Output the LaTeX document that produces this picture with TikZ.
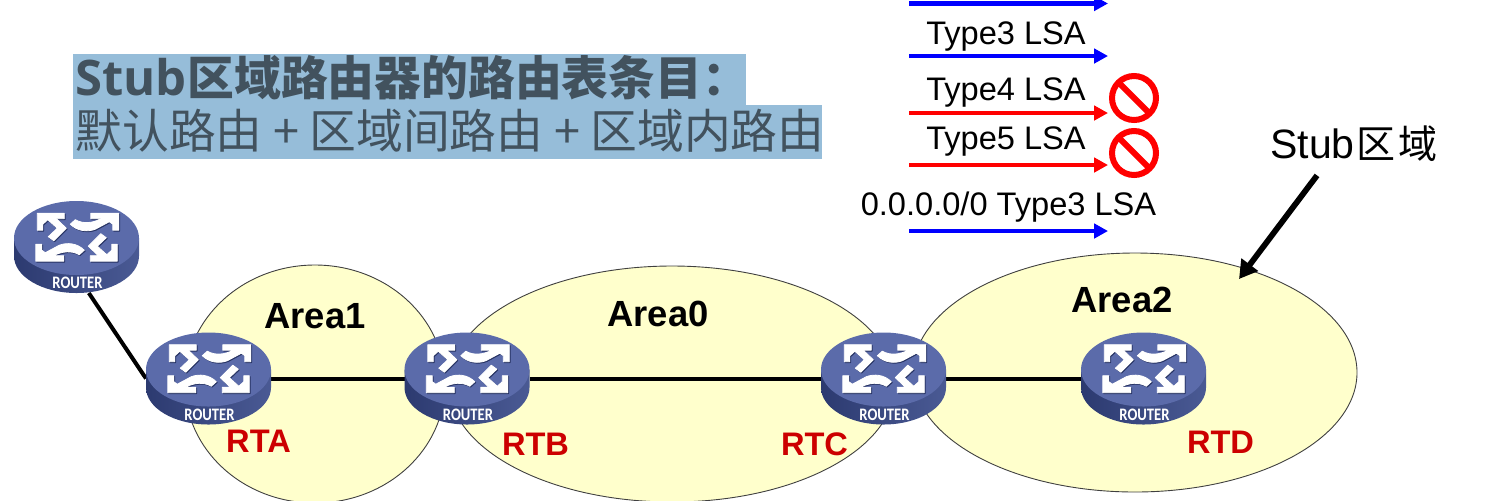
\documentclass[tikz,border=0pt]{standalone}
\usepackage{fontspec}
\setmainfont{Liberation Sans}
\newfontfamily\cjk{Noto Sans CJK SC}
\newfontfamily\rfont{Carlito}
\newfontfamily\stubfont{Open Sans}
\usetikzlibrary{arrows.meta,calc}
\definecolor{areafill}{RGB}{255,255,204}
\definecolor{hlblue}{RGB}{150,189,217}
\definecolor{titleink}{RGB}{66,82,94}
\definecolor{rtred}{RGB}{204,0,0}
\definecolor{routertop}{RGB}{91,107,170}
\definecolor{routershadow}{RGB}{40,52,100}
\definecolor{sideleft}{RGB}{44,58,112}
\definecolor{sideright}{RGB}{74,90,148}
\tikzset{
  x=.5pt,y=-.5pt,
  area/.style={fill=areafill,draw=black!75,line width=.45pt},
  link/.style={line width=2pt,black},
  routerbox/.style={minimum width=62.5pt,minimum height=46pt,inner sep=0pt,outer sep=0pt},
  arealabel/.style={inner sep=0pt,font=\fontsize{18.2}{20}\bfseries},
  rtlabel/.style={inner sep=0pt,text=rtred,font=\fontsize{16.3}{18}\bfseries},
  lsalabel/.style={inner sep=0pt,font=\fontsize{16.3}{18}\selectfont},
  lsaarrow/.style={line width=2.1pt,-{Triangle[length=7pt,width=7.2pt]}},
  forbid/.style={red,line width=3pt},
  routertxt/.style={inner sep=0pt,text=white,transform shape,yscale=1.2,font=\rfont\fontsize{7.3}{8}\bfseries},
  titletxt/.style={anchor=base west,inner sep=0pt,text=titleink,font=\cjk\fontsize{23.4}{24}\selectfont},
  pics/routerlook/.style={code={
    \path[left color=sideleft,right color=sideright]
      (-62.5,-9) -- (-62.5,9) .. controls (-62.5,29.4) and (-34.5,46) .. (0,46)
      .. controls (34.5,46) and (62.5,29.4) .. (62.5,9) -- (62.5,-9) -- cycle;
    \fill[routertop] (0,-9) ellipse [x radius=62.5,y radius=37];
    \foreach \a/\c/\o in {0/routershadow/.9,180/routershadow/.9,0/white/0,180/white/0}{
      \begin{scope}[shift={(.8+\o,-9.8+\o)},rotate=\a]
        \filldraw[fill=\c,draw=\c,line width=.4pt,line join=round]
          (-40,-24) -- (-13,-24) -- (-13,-18.5) -- (-21,-18.5) -- (-11,-9) -- (-23.5,3.5)
          -- (-29,-.5) -- (-20,-9) -- (-29.5,-17.5) -- (-34.5,-13) -- (-34.5,-7) -- (-40,-7) -- cycle;
        \filldraw[fill=\c,draw=\c,line width=.4pt,line join=round]
          (41.5,-24) -- (13.5,-24) -- (13.5,-18.5) -- (24,-18.5)
          .. controls (15,-14) and (6,-13) .. (-2,-17.5) -- (-7,-13)
          .. controls (0,-6) and (10,-5) .. (18,-8) -- (32,-15.5) -- (35.5,-13) -- (35.5,-7) -- (41.5,-7) -- cycle;
      \end{scope}
    }
    \node[routertxt] (-lbl) at (1,36) {ROUTER};
  }}
}
\begin{document}
\begin{tikzpicture}
\useasboundingbox (0,0) rectangle (1497,500);
\clip (0,0) rectangle (1497,500);

% highlighted title
\fill[hlblue] (73,54) rectangle (746,105);
\fill[hlblue] (73,105) rectangle (822,159);
\node[titletxt] (title1) at (75,95) {\makebox[56pt][l]{\stubfont\fontsize{24.5}{24}\bfseries Stub}\bfseries 区域路由器的路由表条目：};
\node[titletxt] (title2) at (75,148) {默认路由 + 区域间路由 + 区域内路由};

% areas
\fill[area] (315,384) ellipse [x radius=130,y radius=119];
\fill[area] (672,384) ellipse [x radius=223,y radius=118];
\fill[area] (1135,372.5) ellipse [x radius=222,y radius=119.5];

% routers: anchors and links
\node[routerbox] (r0) at (76.5,247) {};
\node[routerbox] (rta) at (208.5,378.5) {};
\node[routerbox] (rtb) at (467,378.5) {};
\node[routerbox] (rtc) at (883.5,378.5) {};
\node[routerbox] (rtd) at (1143.5,378.5) {};
\draw[link] (r0.-75) -- (rta.west);
\draw[link] (rta) -- (rtb);
\draw[link] (rtb) -- (rtc);
\draw[link] (rtc) -- (rtd);
\pic (p0) at (r0) {routerlook};
\pic (pa) at (rta) {routerlook};
\pic (pb) at (rtb) {routerlook};
\pic (pc) at (rtc) {routerlook};
\pic (pd) at (rtd) {routerlook};

% labels
\node[arealabel] (a1) at (315,316) {Area1};
\node[arealabel] (a0) at (658,314) {Area0};
\node[arealabel] (a2) at (1122,300) {Area2};
\node[rtlabel] (la) at (258.5,441) {RTA};
\node[rtlabel] (lb) at (535.5,444) {RTB};
\node[rtlabel] (lc) at (814.5,444) {RTC};
\node[rtlabel] (ld) at (1220.5,442) {RTD};

% LSA arrows
\foreach \n/\y/\c in {u/3.5/blue,v/56/blue,w/113/red,s/165/red,t/231/blue}{
  \coordinate (\n L) at (909,\y);
  \coordinate (\n R) at (1108,\y);
  \draw[lsaarrow,\c] (\n L) -- (\n R);
}
\node[lsalabel] (t3) at (1006,36) {Type3 LSA};
\node[lsalabel] (t4) at (1006,92) {Type4 LSA};
\node[lsalabel] (t5) at (1006,141) {Type5 LSA};
\node[lsalabel] (t0) at (1008.5,207) {0.0.0.0/0 Type3 LSA};

% prohibition signs
\foreach \y in {98,153}{
  \draw[forbid] (1134,\y) circle [radius=22];
  \draw[forbid,line cap=butt] (1118.5,\y-15.5) -- (1149.5,\y+15.5);
}

% Stub label
\node[inner sep=0pt,minimum width=84pt,minimum height=20pt] (stub) at (1354,144)
  {\fontsize{20.5}{22}\selectfont Stub{\cjk\fontsize{19.5}{22}\selectfont \hspace{1pt}区\hspace{1.5pt}域}};
\coordinate (stubtip) at (1239,279);
\draw[line width=2.9pt,-{Triangle[length=9pt,width=10pt]}] ($(stub.south)+(-37,11)$) -- (stubtip);
\end{tikzpicture}
\end{document}
